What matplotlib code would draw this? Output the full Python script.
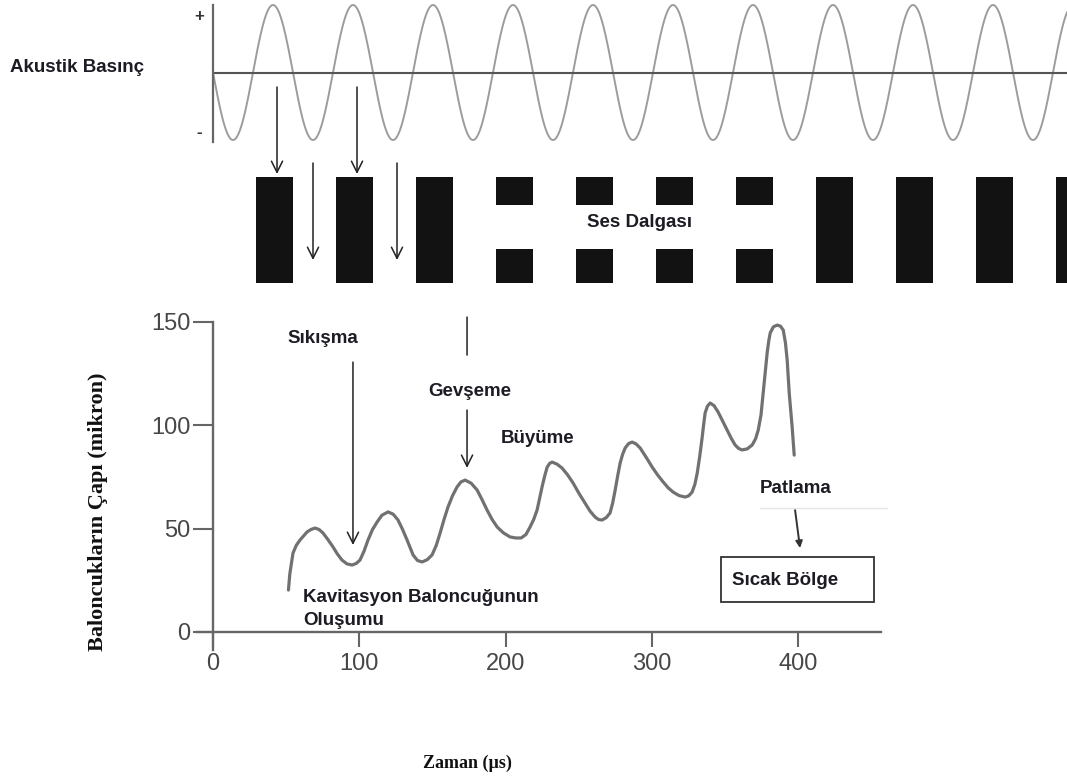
import numpy as np
import matplotlib
matplotlib.use('Agg')
import matplotlib.pyplot as plt
from matplotlib.patches import Rectangle
from matplotlib.lines import Line2D

plt.rcParams['font.family'] = ['Liberation Sans', 'DejaVu Sans']

W, H = 1067, 780

# baloncuk çapı eğrisi (resimden okunan noktalar)
zaman = [51.6, 52.5, 54.7, 57.0, 59.5, 64.3, 67.0, 69.8, 72.5, 75.2,
         78.5, 82.1, 85.0, 88.2, 91.5, 95.1, 98.0, 100.5, 103.2, 106.0,
         109.0, 112.2, 115.5, 119.7, 123.2, 126.5, 129.7, 132.7, 136.8, 139.8,
         143.0, 146.5, 149.8, 152.6, 155.3, 158.0, 160.7, 163.8, 166.9, 169.5,
         172.4, 176.5, 180.6, 184.0, 187.4, 190.8, 194.3, 198.5, 203.1, 207.0,
         210.7, 214.0, 216.8, 219.3, 221.6, 223.3, 225.0, 226.8, 228.5, 230.2,
         231.9, 235.3, 238.7, 242.5, 246.2, 250.3, 254.4, 257.8, 261.3, 263.7,
         266.1, 268.8, 271.5, 273.3, 275.0, 276.7, 278.4, 280.1, 281.8, 284.2,
         286.6, 289.3, 292.1, 296.2, 300.3, 304.0, 307.8, 311.2, 314.6, 318.7,
         322.8, 325.3, 327.6, 329.5, 331.1, 332.8, 334.5, 335.5, 336.5, 338.1,
         339.9, 342.6, 345.4, 348.5, 351.6, 354.3, 357.0, 359.4, 361.8, 365.3,
         368.7, 371.0, 372.8, 374.7, 376.2, 377.6, 378.9, 380.0, 381.0, 383.2,
         385.8, 388.0, 389.9, 391.4, 392.6, 394.0, 396.0, 397.4]
cap = [20.3, 28.0, 38.2, 42.0, 44.5, 48.4, 49.6, 50.3, 49.6, 47.9,
       44.8, 41.1, 37.8, 34.8, 33.0, 32.4, 33.2, 34.8, 39.0, 44.5,
       49.5, 53.2, 56.5, 58.1, 57.0, 54.2, 49.5, 44.5, 37.3, 34.6,
       33.9, 35.0, 37.3, 41.8, 47.9, 54.5, 60.5, 66.0, 70.2, 72.6,
       73.5, 72.0, 68.7, 64.0, 59.0, 54.5, 50.8, 48.0, 46.0, 45.5,
       45.5, 47.2, 50.8, 54.5, 59.0, 64.5, 70.2, 75.5, 79.8, 81.6,
       82.2, 81.2, 79.3, 76.0, 72.1, 67.0, 62.4, 58.5, 55.6, 54.4,
       54.2, 55.3, 57.6, 62.5, 68.7, 75.5, 81.8, 86.0, 89.0, 91.2,
       91.9, 91.0, 89.0, 84.5, 79.8, 76.0, 72.6, 69.8, 67.7, 66.0,
       65.3, 65.9, 67.7, 71.5, 76.9, 85.0, 94.3, 100.5, 106.0, 109.3,
       110.8, 109.5, 106.4, 102.0, 97.7, 93.8, 90.5, 88.8, 88.1, 88.6,
       90.5, 93.5, 97.7, 105.0, 115.6, 125.5, 135.0, 140.8, 144.7, 147.7,
       148.5, 148.0, 146.1, 140.0, 131.6, 115.6, 99.2, 85.6]

x_ticks = [0, 100, 200, 300, 400]
y_ticks = [0, 50, 100, 150]

# ses dalgası: görünen periyot sayısı ve her periyottaki sıkışma çubuğu
periyot = 10.675
cubuk_no = list(range(11))
cubuk_tipi = ['tam'] * 3 + ['bolunmus'] * 4 + ['tam'] * 4

TEXT = '#1c1c24'
GRAY = '#666666'


def fx(px):
    return px / W


def fy(py):
    return 1 - py / H


fig = plt.figure(figsize=(W / 100, H / 100), dpi=100)

# ---- alt grafik: baloncuk çapı ----
ox, oy = 213, 632          # (0, 0) noktasının piksel konumu
sx, sy = 1.4625, 2.0667    # piksel / birim
xl, yl = (-30, 470), (-40, 160)
left_px, right_px = ox + xl[0] * sx, ox + xl[1] * sx
top_px, bot_px = oy - yl[1] * sy, oy - yl[0] * sy
ax = fig.add_axes([fx(left_px), fy(bot_px), (right_px - left_px) / W, (bot_px - top_px) / H])
ax.set_xlim(*xl)
ax.set_ylim(*yl)
ax.patch.set_alpha(0)

ax.plot(zaman, cap, color='#717171', lw=2.3, solid_capstyle='round', solid_joinstyle='round')

for s in ['top', 'right']:
    ax.spines[s].set_visible(False)
ax.spines['left'].set_position(('data', 0))
ax.spines['bottom'].set_position(('data', 0))
ax.spines['left'].set_bounds(-8.7, 150)
ax.spines['bottom'].set_bounds(-10.9, 457)
for s in ['left', 'bottom']:
    ax.spines[s].set_color(GRAY)
    ax.spines[s].set_linewidth(1.7)
ax.set_xticks(x_ticks)
ax.set_yticks(y_ticks)
ax.tick_params(axis='y', direction='out', length=14.4, width=1.5, pad=2,
               labelsize=17, labelcolor='#474747', color=GRAY)
ax.tick_params(axis='x', direction='out', length=10.8, width=1.5, pad=4,
               labelsize=17, labelcolor='#474747', color=GRAY)

ok = dict(arrowstyle='->', color='#222222', lw=1.1, mutation_scale=20, shrinkA=0, shrinkB=0)
ax.annotate('', xy=(95.7, 42.1), xytext=(95.7, 130.6), arrowprops=ok)
ax.annotate('', xy=(173.7, 134.0), xytext=(173.7, 152.4),
            arrowprops=dict(arrowstyle='-', color='#222222', lw=1.1, shrinkA=0, shrinkB=0))
ax.annotate('', xy=(173.7, 79.4), xytext=(173.7, 107.4), arrowprops=ok)
ax.annotate('', xy=(401.4, 40.6), xytext=(398.0, 59.0),
            arrowprops=dict(arrowstyle='-|>', color='#333333', lw=1.4, mutation_scale=10,
                            shrinkA=0, shrinkB=0))

# ---- üst panel: akustik basınç ve ses dalgası ----
amp_px = 67.5
mid_px = 72.5


def amp(py):
    return (mid_px - py) / amp_px


top = fig.add_axes([fx(213), fy(300), (W - 213) / W, 300 / H])
top.set_xlim(0, periyot)
top.set_ylim(amp(300), amp(0))
top.patch.set_alpha(0)
for s in ['top', 'right', 'bottom']:
    top.spines[s].set_visible(False)
top.spines['left'].set_bounds(amp(142), amp(5))
top.spines['left'].set_color(GRAY)
top.spines['left'].set_linewidth(1.6)
top.set_xticks([])
top.set_yticks([])

t = np.linspace(0, periyot, 3000)
top.plot(t, -np.sin(2 * np.pi * t), color='#9c9c9c', lw=1.4)  # saf sinüs basınç dalgası
top.axhline(0, color='#555555', lw=1.5)

ust, alt = amp(177), amp(283)
bosluk_ust, bosluk_alt = amp(205), amp(249)
for i, tip in zip(cubuk_no, cubuk_tipi):
    c = i + 0.77
    if tip == 'tam':
        top.bar(c, ust - alt, bottom=alt, width=0.46, color='#121212')
    else:
        top.bar(c, ust - bosluk_ust, bottom=bosluk_ust, width=0.46, color='#121212')
        top.bar(c, bosluk_alt - alt, bottom=alt, width=0.46, color='#121212')

for c in [0.8, 1.8]:
    top.annotate('', xy=(c, amp(174)), xytext=(c, amp(87)), arrowprops=ok)
for c in [1.25, 2.3]:
    top.annotate('', xy=(c, amp(260)), xytext=(c, amp(163)), arrowprops=ok)

# ---- yazılar ----
lab = dict(fontsize=13.5, fontweight='bold', color=TEXT, va='baseline', ha='left')
fig.text(fx(10), fy(72), 'Akustik Basınç', **lab)
fig.text(fx(587), fy(227), 'Ses Dalgası', **lab)
fig.text(fx(287), fy(343), 'Sıkışma', **lab)
fig.text(fx(428), fy(396), 'Gevşeme', **lab)
fig.text(fx(501), fy(443), 'Büyüme', **lab)
fig.text(fx(303), fy(602), 'Kavitasyon Baloncuğunun', **lab)
fig.text(fx(303), fy(625), 'Oluşumu', **lab)
fig.text(fx(760), fy(493), 'Patlama', **lab)
fig.text(fx(732), fy(585), 'Sıcak Bölge', **lab)
fig.add_artist(Rectangle((fx(721), fy(602)), 153 / W, 45 / H, transform=fig.transFigure,
                         fill=False, ec='#333333', lw=1.3))
fig.add_artist(Line2D([fx(760), fx(887)], [fy(508), fy(508)], transform=fig.transFigure,
                      color='#e6e6e6', lw=1))

fig.text(fx(199), fy(17), '+', fontsize=12, fontweight='bold', color='#333333', ha='center', va='center')
fig.text(fx(199), fy(133), '-', fontsize=12, fontweight='bold', color='#333333', ha='center', va='center')

fig.text(fx(98), fy(512), 'Baloncukların Çapı (mikron)', rotation=90, ha='center', va='center',
         family='Liberation Serif', fontweight='bold', fontsize=16, color='#111111')
fig.text(fx(467), fy(763), 'Zaman (µs)', ha='center', va='center',
         family='Liberation Serif', fontweight='bold', fontsize=13, color='#111111')

fig.savefig('out.png', dpi=100, facecolor='white')
